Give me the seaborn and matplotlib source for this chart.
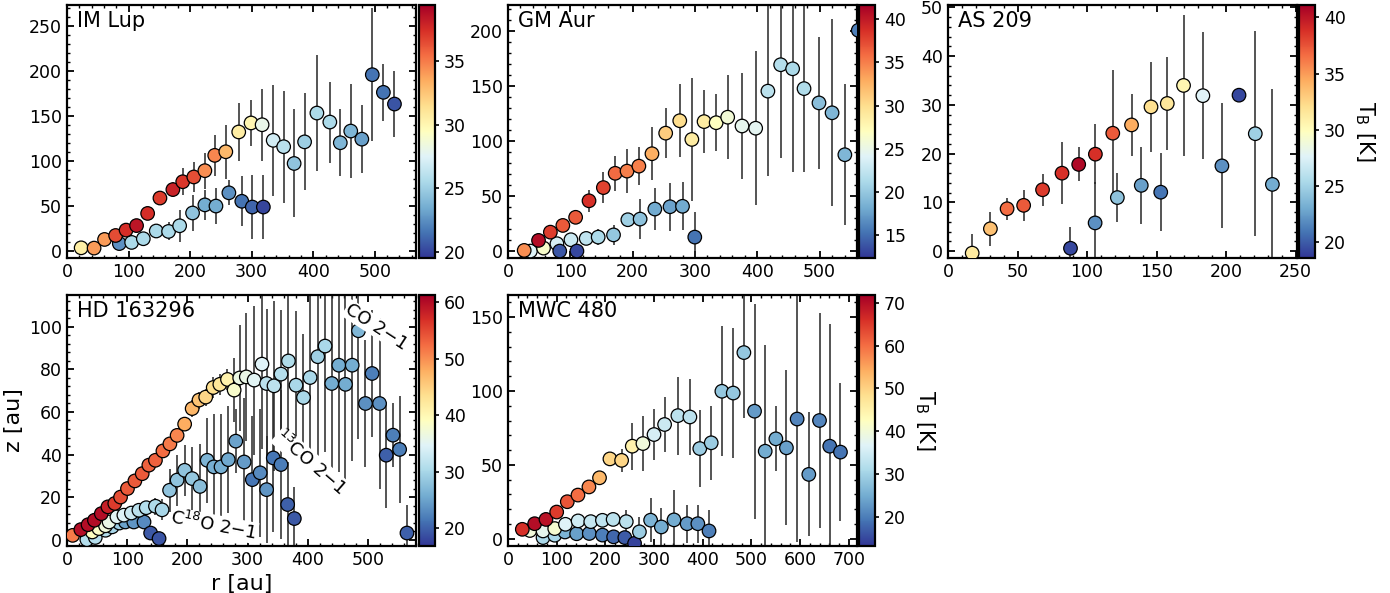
import numpy as np
import pandas as pd
import matplotlib
matplotlib.use("Agg")
import matplotlib.pyplot as plt
import seaborn as sns
from matplotlib.ticker import AutoMinorLocator, MultipleLocator
from matplotlib.colors import Normalize
from matplotlib.cm import ScalarMappable

sns.set_style("ticks")
plt.rcParams["font.family"] = ["DejaVu Sans"]
plt.rcParams["mathtext.fontset"] = "dejavusans"
for k in ["text.color", "axes.labelcolor", "xtick.color", "ytick.color", "axes.edgecolor"]:
    plt.rcParams[k] = "black"

# ---------------- IM Lup ----------------
imlup_co_r = [23, 44, 61, 79, 96, 113, 131, 151, 172, 188, 206, 224, 240, 258, 279, 299, 317, 335, 352, 369, 386, 406, 427, 444, 461, 479, 496, 514, 532]
imlup_co_z = [3.3, 3, 12.6, 17, 23, 28, 41.5, 58.6, 68, 76.7, 82, 89, 106, 110, 132, 142, 140, 122.7, 115.6, 97, 121, 153, 143, 120, 133, 124, 195.6, 176, 163]
imlup_co_e = [2, 3, 3, 4, 4, 5, 5, 6, 8, 15, 17, 20, 23, 30, 32, 26, 40, 62, 62, 60, 54, 64, 45, 37, 52, 38, 74, 32, 37]
imlup_co_t = [30.5, 34, 34, 36.5, 37.5, 38.5, 37.5, 37, 38, 37.2, 36.4, 34.4, 34.6, 33, 30.6, 30, 28, 26.9, 26, 24.5, 25, 25.5, 25.5, 23.9, 23.9, 23, 21.5, 21.5, 20.5]
imlup_13co_r = [85, 105, 124, 145, 165, 183, 204, 224, 242, 263, 284, 301, 319]
imlup_13co_z = [8, 9.3, 13.4, 22, 21.5, 27.8, 42, 51, 49.7, 64.4, 55, 48.6, 48.6]
imlup_13co_e = [3, 3, 4, 5, 10, 18, 20, 17, 20, 14, 28, 36, 36]
imlup_13co_t = [22.5, 25.5, 25.5, 25.5, 25.5, 25.5, 24.5, 23.5, 23.5, 22.5, 21.5, 21, 20]

# ---------------- GM Aur ----------------
gmaur_co_r = [26, 49, 68, 88, 108.5, 130, 153, 172, 191, 210, 231, 253, 275.6, 295, 314.6, 334, 352.5, 375.5, 397.4, 417, 437.5, 456.7, 475, 499, 520, 540.5, 562]
gmaur_co_z = [0.9, 10, 17.5, 23.6, 31, 46, 58, 71, 73, 77.5, 88.8, 107.5, 118.8, 101.8, 118, 117, 122, 114, 112, 145.7, 169.7, 166, 148, 135, 126, 87.9, 201]
gmaur_co_e = [2, 3, 3, 4, 4, 10, 14, 16, 20, 17, 24, 22.6, 33, 56, 28.5, 26, 38, 48, 70, 77, 85, 94, 76, 60, 85, 64, 10]
gmaur_co_t = [34.3, 40.7, 38, 36.6, 36.6, 38.7, 37.8, 35.8, 34.9, 34.9, 32.8, 31, 30, 28.8, 28.8, 27, 25.8, 24.7, 24.4, 22, 21.7, 21.2, 21.5, 19.4, 18.8, 18.8, 15.9]
gmaur_13co_r = [36, 57, 78.5, 83, 101, 110.6, 125.5, 144.7, 169.3, 192.3, 212, 235.6, 260, 280, 299.7]
gmaur_13co_z = [0.3, 3, 7, 0.3, 10.6, 0.3, 11.8, 13, 15, 28.8, 29.4, 38.5, 40.6, 41, 13]
gmaur_13co_e = [2, 2, 3, 2, 3, 2, 4, 7, 9, 6, 18.5, 19, 21.7, 22, 23]
gmaur_13co_t = [24, 26.4, 23.5, 13.9, 23, 13.3, 22.3, 21.2, 20, 20.6, 19.7, 18.2, 17.7, 18.2, 15.3]

# ---------------- AS 209 ----------------
as209_co_r = [17.4, 30.5, 42.5, 54.4, 68, 82, 94, 106, 118.5, 132, 146, 157.7, 169.4, 183.3, 197, 209.3, 221, 233.3]
as209_co_z = [-0.4, 4.6, 8.7, 9.4, 12.6, 16, 17.8, 19.9, 24.2, 25.9, 29.6, 30.3, 34, 31.9, 17.5, 32, 24.1, 13.7]
as209_co_e = [4, 3.5, 2.3, 3.2, 3.3, 6.4, 3.5, 6.2, 13, 6.4, 9.2, 9.6, 14.4, 13, 12.8, 0.8, 21, 19.6]
as209_co_t = [31.4, 33.5, 36.6, 37.3, 38.4, 38.9, 40.6, 38.9, 37.3, 34.4, 32.1, 31.6, 30.5, 27.6, 22, 19.3, 24.9, 23.1]
as209_13co_r = [88.1, 105.8, 121.8, 139, 153]
as209_13co_z = [0.6, 5.8, 11, 13.5, 12.1]
as209_13co_e = [4.4, 8.4, 5, 7.9, 8]
as209_13co_t = [19.3, 22, 24.2, 22.6, 20.9]

# ---------------- HD 163296 ----------------
hd_co_r = [9.4, 23, 35, 45.6, 57, 68, 79.4, 89, 100.5, 112.8, 125, 136, 147, 159.4, 171, 183, 195.5, 208, 219.4, 230.5, 243, 254, 266.7, 277.8, 287, 298, 311, 324, 331.7, 344, 355.6, 368, 380.6, 393, 404, 416.7, 428.9, 440, 451.7, 462.8, 474, 484.4, 496, 507, 519.4, 530.5, 541.7, 552.8, 565]
hd_co_z = [2, 4.7, 7, 9.1, 12.2, 15.4, 17, 20, 24, 27.6, 31, 35, 37.3, 41.7, 45, 49, 54.3, 61.6, 65.6, 67, 71.5, 73, 75.3, 70.3, 76, 76.5, 75, 82.5, 73.4, 72.3, 77.8, 84, 72.6, 66.8, 76.2, 86, 91, 73.4, 82, 73, 82, 98.2, 64, 78.1, 64, 39.7, 49.1, 42.4, 3.1]
hd_co_e = [1, 1, 1, 1, 1, 1, 2, 2, 2, 2, 2, 2, 2, 3, 3, 3, 3, 4, 4, 4, 5, 5, 5, 15, 25, 30, 35, 40, 35, 40, 30, 40, 35, 30, 40, 50, 50, 45, 50, 45, 45, 51, 30, 30, 40, 25, 15, 25, 13]
hd_co_t = [51.5, 60, 60, 60, 60, 58.2, 56, 54.6, 53.7, 53.7, 53.7, 53.3, 53.3, 52.4, 51.5, 50.6, 48, 47.1, 46.2, 44.4, 43.5, 42.7, 40.9, 38.2, 36.4, 36, 35.1, 34.7, 31.6, 31.6, 31.1, 30.7, 30.2, 30.2, 30.2, 29.3, 30.2, 25.8, 25.8, 25.8, 25.8, 26.7, 23.6, 22.2, 23.6, 20, 22.2, 22.2, 20]
hd_13co_r = [42, 53, 64, 70, 83, 94.5, 107, 119.5, 131.7, 147, 158, 170.5, 183, 195.5, 208, 221, 233, 244, 256, 268, 280.5, 294.4, 308, 321, 331.7, 342.8, 355.6, 366.7, 377.8]
hd_13co_z = [3.6, 5.2, 6.5, 8.3, 10.7, 11.5, 12.5, 13.8, 15, 15.7, 14, 23.2, 28, 32.6, 28.7, 25, 37.3, 34.2, 34.2, 37.6, 46.3, 36.5, 28.2, 31.4, 23.5, 38.4, 35.3, 16.5, 9.9]
hd_13co_e = [1, 1, 1, 2, 2, 2, 2, 3, 3, 4, 5, 10, 12, 12, 15, 20, 20, 25, 25, 25, 15, 30, 30, 30, 25, 35, 35, 20, 15]
hd_13co_t = [39, 38.5, 37, 36, 35, 34.5, 33, 31.5, 31, 30.5, 30, 28, 28, 28, 28.5, 27.5, 26.5, 26, 26, 25.5, 25, 24.5, 21.5, 23, 24, 21.5, 22, 20, 19.5]
hd_c18o_r = [33, 47, 64, 75, 87, 97, 111, 128, 139, 153]
hd_c18o_z = [0, 1, 4.4, 6, 7.8, 8.3, 8.3, 8.3, 3.1, 0.5]
hd_c18o_e = [1, 1, 1, 1, 2, 2, 2, 3, 3, 3]
hd_c18o_t = [31, 31, 31, 30, 29, 25, 24, 23, 19.5, 19]

# ---------------- MWC 480 ----------------
mwc_co_r = [29.4, 54.8, 78, 100, 121.8, 143.7, 166.3, 188, 209.4, 233.4, 255.3, 277.2, 300, 321.7, 349, 373.7, 394, 417.5, 439.4, 462.7, 484.6, 506.5, 528.4, 550.3, 572, 594, 618, 640, 661, 683]
mwc_co_z = [6.3, 10.1, 13, 18, 25, 29.5, 35, 41.2, 54, 53, 62.6, 64.4, 70.5, 77.3, 83.3, 82.4, 61, 64.9, 99.8, 98.6, 126, 86.3, 59.2, 67.6, 61.5, 81, 43.5, 80, 62.6, 58.6]
mwc_co_e = [1, 1, 1, 2, 2, 2, 2, 3, 4, 8, 16, 18.5, 17.5, 18.6, 26.5, 25.5, 26, 25, 44, 44, 44, 72.7, 72, 22, 52.5, 83, 42, 73, 83, 47]
mwc_co_t = [66, 70, 69.5, 64.8, 62.4, 60, 57.7, 53, 49.5, 49.5, 44.8, 39.6, 35.5, 34.3, 32.5, 32.5, 29, 29, 28.4, 28.4, 28.4, 23.2, 24.9, 24.9, 23.7, 20.8, 23.2, 20.8, 19, 19]
mwc_13co_r = [45, 72, 96, 118, 144, 170, 194, 216, 243, 270, 293, 315, 341, 368, 390, 413]
mwc_13co_z = [5.5, 5.2, 6.8, 9.7, 12, 11.5, 12.4, 13, 11.5, 4.6, 12.5, 7.9, 12.7, 10.1, 10.1, 5.2]
mwc_13co_e = [2, 2, 2, 2, 3, 3, 3, 3, 8, 10, 15, 13, 20, 13, 13, 14]
mwc_13co_t = [39.6, 37.8, 40.7, 36.6, 34.9, 33.7, 33, 32.5, 32.5, 29, 26, 24.9, 24.9, 23.2, 22, 20.2]
mwc_c18o_r = [72, 96, 117, 141, 167, 194, 217, 240, 260]
mwc_c18o_z = [0.7, 2.3, 4.5, 3.3, 3.5, 2.4, 1.2, 0.7, -3.2]
mwc_c18o_e = [1, 1, 2, 2, 2, 2, 2, 2, 2]
mwc_c18o_t = [30.8, 30.8, 26, 23.7, 22, 20.2, 17.9, 16.7, 14.4]

# panel definitions (layout in figure pixels, from image top-left)
FW, FH = 1390, 593
panels = [
    dict(name="IM Lup", box=(67, 5, 416, 258), cbox=(419, 5, 435, 258),
         series=[(imlup_co_r, imlup_co_z, imlup_co_e, imlup_co_t),
                 (imlup_13co_r, imlup_13co_z, imlup_13co_e, imlup_13co_t)],
         xlim=(0, 567), ylim=(-8, 273), xmaj=100, ymaj=50, norm=(19.5, 39.4),
         cticks=[20, 25, 30, 35], clabel=False),
    dict(name="GM Aur", box=(508, 5, 857, 258), cbox=(859, 5, 875, 258),
         series=[(gmaur_co_r, gmaur_co_z, gmaur_co_e, gmaur_co_t),
                 (gmaur_13co_r, gmaur_13co_z, gmaur_13co_e, gmaur_13co_t)],
         xlim=(0, 560), ylim=(-6, 224), xmaj=100, ymaj=50, norm=(12.4, 41.6),
         cticks=[15, 20, 25, 30, 35, 40], clabel=False),
    dict(name="AS 209", box=(948, 5, 1297, 258), cbox=(1299, 5, 1315, 258),
         series=[(as209_co_r, as209_co_z, as209_co_e, as209_co_t),
                 (as209_13co_r, as209_13co_z, as209_13co_e, as209_13co_t)],
         xlim=(0, 251), ylim=(-1.4, 50.5), xmaj=50, ymaj=10, norm=(18.6, 41.1),
         cticks=[20, 25, 30, 35, 40], clabel=True),
    dict(name="HD 163296", box=(67, 295, 416, 546), cbox=(419, 295, 435, 546),
         series=[(hd_co_r, hd_co_z, hd_co_e, hd_co_t),
                 (hd_13co_r, hd_13co_z, hd_13co_e, hd_13co_t),
                 (hd_c18o_r, hd_c18o_z, hd_c18o_e, hd_c18o_t)],
         xlim=(0, 580), ylim=(-3, 115), xmaj=100, ymaj=20, norm=(16.9, 61.3),
         cticks=[20, 30, 40, 50, 60], clabel=False),
    dict(name="MWC 480", box=(508, 295, 857, 546), cbox=(859, 295, 875, 546),
         series=[(mwc_co_r, mwc_co_z, mwc_co_e, mwc_co_t),
                 (mwc_13co_r, mwc_13co_z, mwc_13co_e, mwc_13co_t),
                 (mwc_c18o_r, mwc_c18o_z, mwc_c18o_e, mwc_c18o_t)],
         xlim=(0, 717), ylim=(-5, 165), xmaj=100, ymaj=50, norm=(13.2, 71.8),
         cticks=[20, 30, 40, 50, 60, 70], clabel=True),
]

def frac(b):
    x0, y0, x1, y1 = b
    return [x0 / FW, (FH - y1) / FH, (x1 - x0) / FW, (y1 - y0) / FH]

cmap = plt.get_cmap("RdYlBu_r")
fig = plt.figure(figsize=(13.9, 5.93), dpi=100)

axes = {}
for p in panels:
    ax = fig.add_axes(frac(p["box"]))
    cax = fig.add_axes(frac(p["cbox"]))
    axes[p["name"]] = ax
    vmin, vmax = p["norm"]
    for (r, z, e, t) in p["series"]:
        ax.errorbar(r, z, yerr=e, fmt="none", ecolor="0.15", elinewidth=1.1,
                    capsize=0, zorder=1)
    for (r, z, e, t) in p["series"][::-1]:
        df = pd.DataFrame({"r": r, "z": z, "T": t})
        sns.scatterplot(data=df, x="r", y="z", hue="T", palette="RdYlBu_r",
                        hue_norm=(vmin, vmax), s=95, edgecolor="black",
                        linewidth=0.9, legend=False, ax=ax, zorder=3)
    ax.set_xlim(*p["xlim"])
    ax.set_ylim(*p["ylim"])
    ax.xaxis.set_major_locator(MultipleLocator(p["xmaj"]))
    ax.yaxis.set_major_locator(MultipleLocator(p["ymaj"]))
    ax.xaxis.set_minor_locator(AutoMinorLocator(5))
    ax.yaxis.set_minor_locator(AutoMinorLocator(5))
    ax.tick_params(which="both", direction="in", top=True, right=True,
                   labelsize=12.5)
    ax.tick_params(which="major", length=5, width=1.3)
    ax.tick_params(which="minor", length=2.5, width=1.0)
    for s in ax.spines.values():
        s.set_linewidth(1.6)
    ax.set_xlabel("")
    ax.set_ylabel("")
    ax.text(0.03, 0.975, p["name"], transform=ax.transAxes, ha="left",
            va="top", fontsize=15)

    sm = ScalarMappable(norm=Normalize(vmin, vmax), cmap=cmap)
    cb = fig.colorbar(sm, cax=cax, ticks=p["cticks"])
    cb.outline.set_linewidth(1.6)
    cax.tick_params(labelsize=12.5, direction="out", length=3, width=1.2)
    if p["clabel"]:
        cb.set_label(r"T$_{\rm B}$ [K]", rotation=270, fontsize=15, labelpad=22)

hd = axes["HD 163296"]
hd.set_xlabel("r [au]", fontsize=16)
hd.set_ylabel("z [au]", fontsize=16)
bbox = dict(facecolor="white", edgecolor="none", pad=0.5)
hd.text(514, 100, "CO 2\u22121", rotation=-33, ha="center", va="center",
        fontsize=13, bbox=bbox, zorder=4)
hd.text(405, 36, r"$^{13}$CO 2$-$1", rotation=-41, ha="center", va="center",
        fontsize=13, bbox=bbox, zorder=4)
hd.text(244, 6.7, r"C$^{18}$O 2$-$1", rotation=-11, ha="center", va="center",
        fontsize=13, bbox=bbox, zorder=4)

fig.savefig("out.png", dpi=100)
